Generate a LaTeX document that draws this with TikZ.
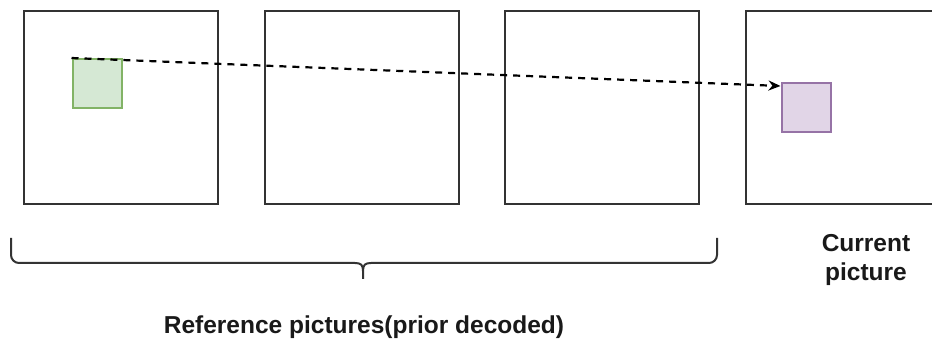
\documentclass[tikz,border=0pt]{standalone}
\usepackage{fontspec}
\setmainfont{Liberation Sans}
\usetikzlibrary{arrows.meta}
\definecolor{picline}{HTML}{333333}
\definecolor{greenfill}{HTML}{D5E8D4}
\definecolor{greenline}{HTML}{82B366}
\definecolor{purplefill}{HTML}{E1D5E7}
\definecolor{purpleline}{HTML}{9673A6}
\begin{document}
\begin{tikzpicture}[x=1pt, y=-1pt]
\tikzset{picbox/.style={draw=picline, line width=2pt, minimum width=194pt, minimum height=193pt, inner sep=0pt},
  blk/.style={line width=2pt, minimum size=49pt, inner sep=0pt},
  lbl/.style={font=\fontsize{24.5}{29}\selectfont\bfseries, align=center, text=black!90}}
\useasboundingbox (0,0) rectangle (932,339);
\clip (0,0) rectangle (932,339);
\node[picbox] (ref1) at (121,107.5) {};
\node[picbox] (ref2) at (361.5,107.5) {};
\node[picbox] (ref3) at (602,107.5) {};
\node[picbox] (cur) at (842.5,107.5) {};
\node[blk, draw=greenline, fill=greenfill] (gblk) at (97,83.5) {};
\node[blk, draw=purpleline, fill=purplefill] (pblk) at (806,107.5) {};
\draw[line width=2.2pt, dash pattern=on 7pt off 6pt, -{Stealth[length=12pt, width=10pt]}] (gblk.north west) -- ([yshift=-4pt]pblk.north west);
% brace under the reference pictures
\draw[line width=2pt, picline] (11,238) -- (11,255) arc (180:90:8) -- (355,263)
  .. controls (361,263) and (363,265) .. (363,271) -- (363,279)
  (363,271) .. controls (363,265) and (365,263) .. (371,263) -- (709,263) arc (90:0:8) -- (717,238);
\node[lbl] (reflbl) at (364,327) {Reference pictures(prior decoded)};
\node[lbl] (curlbl) at (866,260) {Current\\picture};
\end{tikzpicture}
\end{document}
